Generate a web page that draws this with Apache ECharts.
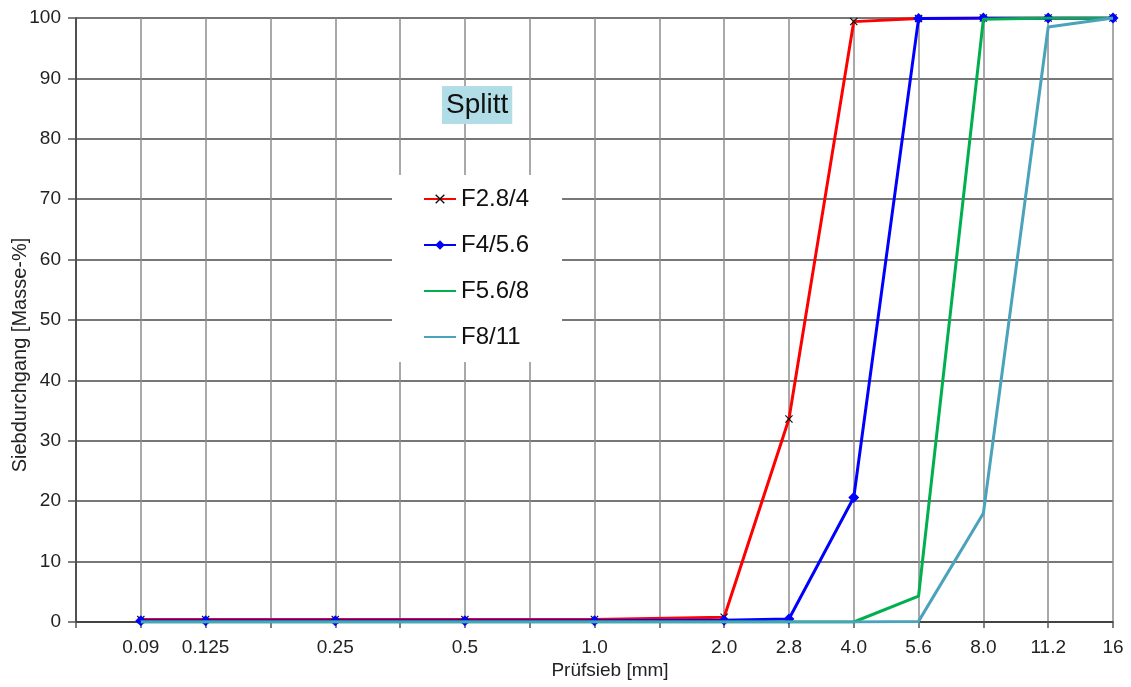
<!DOCTYPE html>
<html>
<head>
<meta charset="utf-8">
<script src="https://cdn.jsdelivr.net/npm/echarts@6/dist/echarts.min.js"></script>
<style>
  html, body { margin: 0; padding: 0; background: #fff; }
  #chart { width: 1131px; height: 687px; }
</style>
</head>
<body>
<div id="chart"></div>
<script>
// Sieve columns (blank entries are unlabelled grid columns)
const sieves = ['', '0.09', '0.125', '', '0.25', '', '0.5', '', '1.0', '', '2.0', '2.8', '4.0', '5.6', '8.0', '11.2', '16'];

// Passing percentages per fraction, aligned with the sieve columns (null = no sieve)
const f28_4  = [null, 0.4, 0.4, null, 0.4, null, 0.4, null, 0.4, null, 0.8, 33.6, 99.4, 99.9, 100, 100, 100];
const f4_56  = [null, 0.2, 0.2, null, 0.2, null, 0.2, null, 0.2, null, 0.3, 0.5, 20.6, 99.9, 100, 100, 100];
const f56_8  = [null, 0, 0, null, 0, null, 0, null, 0, null, 0, 0, 0, 4.3, 99.8, 100, 100];
const f8_11  = [null, 0, 0, null, 0, null, 0, null, 0, null, 0, 0, 0, 0.1, 18.0, 98.5, 100];

const yTicks = { min: 0, max: 100, step: 10 };

const FONT = '"Liberation Sans", Arial, sans-serif';
const crossPath = 'path://M1,0L5,4L9,0L10,1L6,5L10,9L9,10L5,6L1,10L0,9L4,5L0,1Z';

const chart = echarts.init(document.getElementById('chart'), null, { renderer: 'canvas' });

chart.setOption({
  animation: false,
  backgroundColor: '#ffffff',
  title: {
    text: 'Splitt',
    left: 442,
    top: 86,
    padding: [5, 4, 5, 4],
    backgroundColor: '#b0dde6',
    textStyle: { fontFamily: FONT, fontSize: 28, fontWeight: 'normal', color: '#111' }
  },
  legend: {
    orient: 'vertical',
    left: 392,
    top: 175,
    padding: [12, 33, 13, 31],
    backgroundColor: '#ffffff',
    itemWidth: 32,
    itemHeight: 12,
    itemGap: 22,
    textStyle: { fontFamily: FONT, fontSize: 24, color: '#111', lineHeight: 24 },
    data: [
      { name: 'F2.8/4' },
      { name: 'F4/5.6' },
      { name: 'F5.6/8', itemStyle: { opacity: 0 } },
      { name: 'F8/11', itemStyle: { opacity: 0 } }
    ]
  },
  grid: { left: 76, right: 18, top: 18, bottom: 65 },
  xAxis: {
    type: 'category',
    data: sieves,
    boundaryGap: false,
    axisLine: { show: true, lineStyle: { color: '#333', width: 1.5 } },
    axisTick: { show: true, interval: 0, length: 6, lineStyle: { color: '#555', width: 1.5 } },
    axisLabel: { interval: 0, margin: 16, fontFamily: FONT, fontSize: 19, color: '#222' },
    splitLine: { show: true, interval: 0, lineStyle: { color: '#8c8c8c', width: 1.5 } }
  },
  yAxis: {
    type: 'value',
    min: yTicks.min,
    max: yTicks.max,
    interval: yTicks.step,
    axisLine: { show: true, lineStyle: { color: '#333', width: 1.5 } },
    axisTick: { show: true, length: 8, lineStyle: { color: '#555', width: 1.5 } },
    axisLabel: { margin: 15, fontFamily: FONT, fontSize: 19, color: '#222' },
    splitLine: { show: true, lineStyle: { color: '#4a4a4a', width: 1.5 } }
  },
  graphic: [
    {
      type: 'text',
      x: 20,
      y: 355,
      rotation: Math.PI / 2,
      style: {
        text: 'Siebdurchgang [Masse-%]',
        font: '20px ' + FONT,
        fill: '#222',
        align: 'center',
        verticalAlign: 'middle'
      }
    },
    {
      type: 'text',
      x: 610,
      y: 671,
      style: {
        text: 'Prüfsieb [mm]',
        font: '19px ' + FONT,
        fill: '#222',
        align: 'center',
        verticalAlign: 'middle'
      }
    }
  ],
  series: [
    {
      name: 'F2.8/4',
      type: 'line',
      z: 2,
      data: f28_4,
      connectNulls: true,
      symbol: crossPath,
      symbolSize: 8,
      itemStyle: { color: '#111' },
      lineStyle: { color: '#ff0000', width: 3 }
    },
    {
      name: 'F4/5.6',
      type: 'line',
      z: 3,
      data: f4_56,
      connectNulls: true,
      symbol: 'diamond',
      symbolSize: 11,
      itemStyle: { color: '#0000ff' },
      lineStyle: { color: '#0000ff', width: 3 }
    },
    {
      name: 'F5.6/8',
      type: 'line',
      z: 4,
      data: f56_8,
      connectNulls: true,
      symbol: 'none',
      itemStyle: { color: '#00b050' },
      lineStyle: { color: '#00b050', width: 3 }
    },
    {
      name: 'F8/11',
      type: 'line',
      z: 5,
      data: f8_11,
      connectNulls: true,
      symbol: 'none',
      itemStyle: { color: '#4aa3bb' },
      lineStyle: { color: '#4aa3bb', width: 3 }
    }
  ]
});
</script>
</body>
</html>
